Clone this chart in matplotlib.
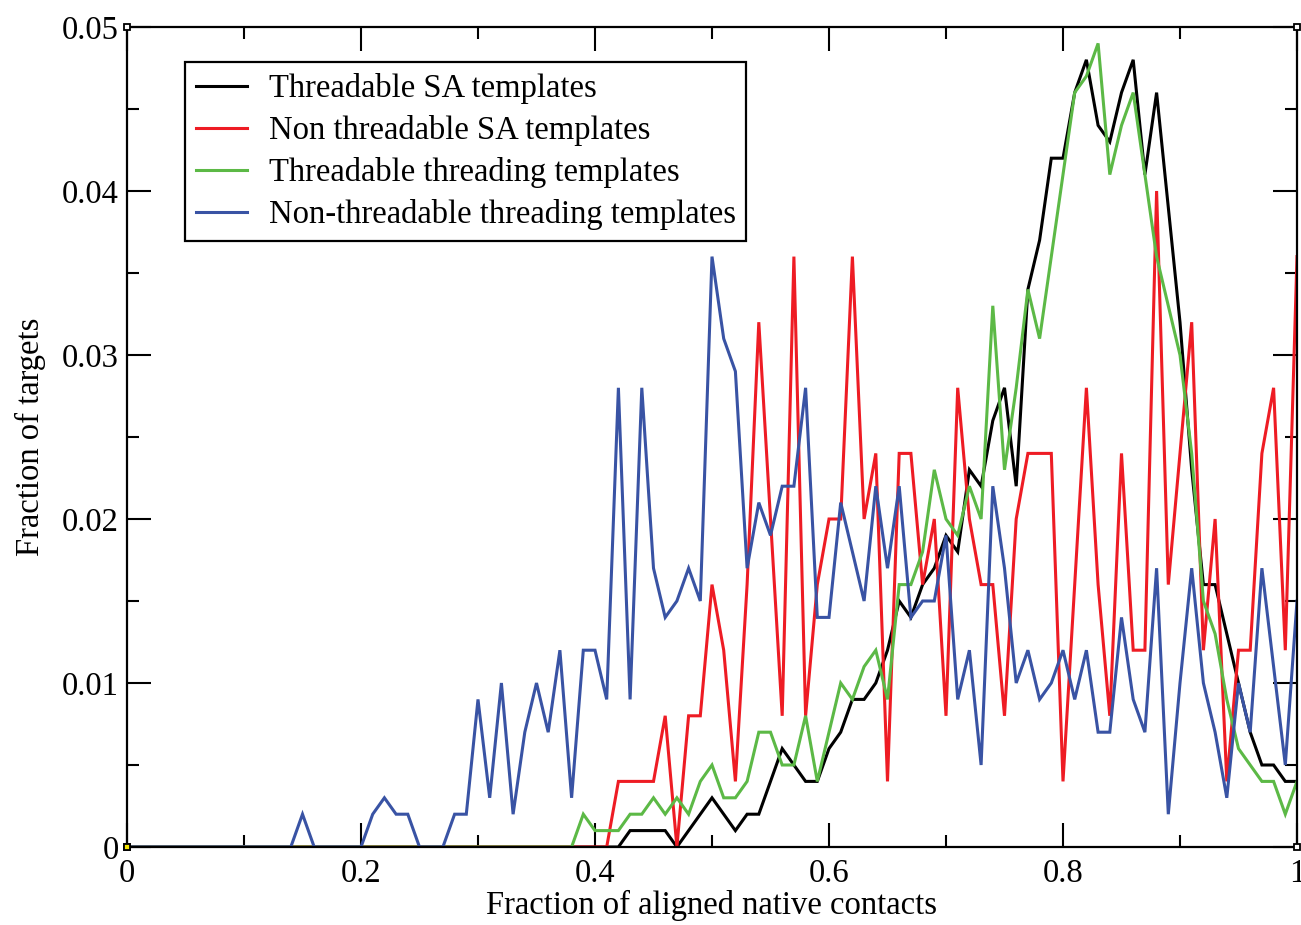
import matplotlib

matplotlib.use("Agg")
import matplotlib.pyplot as plt
from matplotlib.ticker import MultipleLocator, FuncFormatter

# fraction of aligned native contacts, 0.00 .. 1.00 in steps of 0.01
x = [i / 100 for i in range(101)]

black = ([0.0] * 43 +
         [0.001, 0.001, 0.001, 0.001, 0.0, 0.001, 0.002, 0.003, 0.002, 0.001,
          0.002, 0.002, 0.004, 0.006, 0.005, 0.004, 0.004, 0.006, 0.007, 0.009,
          0.009, 0.010, 0.012, 0.015, 0.014, 0.016, 0.017, 0.019, 0.018, 0.023,
          0.022, 0.026, 0.028, 0.022, 0.034, 0.037, 0.042, 0.042, 0.046, 0.048,
          0.044, 0.043, 0.046, 0.048, 0.041, 0.046, 0.039, 0.032, 0.023, 0.016,
          0.016, 0.013, 0.010, 0.007, 0.005, 0.005, 0.004, 0.004])

red = ([0.0] * 42 +
       [0.004, 0.004, 0.004, 0.004, 0.008, 0.0, 0.008, 0.008, 0.016, 0.012,
        0.004, 0.016, 0.032, 0.020, 0.008, 0.036, 0.008, 0.016, 0.020, 0.020,
        0.036, 0.020, 0.024, 0.004, 0.024, 0.024, 0.016, 0.020, 0.008, 0.028,
        0.020, 0.016, 0.016, 0.008, 0.020, 0.024, 0.024, 0.024, 0.004, 0.016,
        0.028, 0.016, 0.008, 0.024, 0.012, 0.012, 0.040, 0.016, 0.024, 0.032,
        0.012, 0.020, 0.004, 0.012, 0.012, 0.024, 0.028, 0.012, 0.036])

green = ([0.0] * 39 +
         [0.002, 0.001, 0.001, 0.001, 0.002, 0.002, 0.003, 0.002, 0.003, 0.002,
          0.004, 0.005, 0.003, 0.003, 0.004, 0.007, 0.007, 0.005, 0.005, 0.008,
          0.004, 0.007, 0.010, 0.009, 0.011, 0.012, 0.009, 0.016, 0.016, 0.018,
          0.023, 0.020, 0.019, 0.022, 0.020, 0.033, 0.023, 0.028, 0.034, 0.031,
          0.036, 0.041, 0.046, 0.047, 0.049, 0.041, 0.044, 0.046, 0.041, 0.036,
          0.033, 0.030, 0.024, 0.015, 0.013, 0.009, 0.006, 0.005, 0.004, 0.004,
          0.002, 0.004])

blue = ([0.0] * 15 +
        [0.002, 0.0, 0.0, 0.0, 0.0, 0.0, 0.002, 0.003, 0.002, 0.002,
         0.0, 0.0, 0.0, 0.002, 0.002, 0.009, 0.003, 0.010, 0.002, 0.007,
         0.010, 0.007, 0.012, 0.003, 0.012, 0.012, 0.009, 0.028, 0.009, 0.028,
         0.017, 0.014, 0.015, 0.017, 0.015, 0.036, 0.031, 0.029, 0.017, 0.021,
         0.019, 0.022, 0.022, 0.028, 0.014, 0.014, 0.021, 0.018, 0.015, 0.022,
         0.017, 0.022, 0.014, 0.015, 0.015, 0.019, 0.009, 0.012, 0.005, 0.022,
         0.017, 0.010, 0.012, 0.009, 0.010, 0.012, 0.009, 0.012, 0.007, 0.007,
         0.014, 0.009, 0.007, 0.017, 0.002, 0.010, 0.017, 0.010, 0.007, 0.003,
         0.010, 0.007, 0.017, 0.011, 0.005, 0.015])

labels = ["Threadable SA templates", "Non threadable SA templates",
          "Threadable threading templates", "Non-threadable threading templates"]
colors = ["#000000", "#ee1c24", "#5cb946", "#3953a4"]

FS = 23.5
plt.rcParams["font.family"] = ["Liberation Serif", "DejaVu Serif"]

fig = plt.figure(figsize=(13.01, 9.25), dpi=100)
ax = fig.add_axes([127 / 1301, 1 - 847 / 925, 1170 / 1301, 820 / 925])

for ys, c, lab in zip([black, red, green, blue], colors, labels):
    ax.plot(x, ys, color=c, lw=2.2, label=lab, solid_joinstyle="miter")

ax.set_xlim(0, 1)
ax.set_ylim(0, 0.05)
ax.xaxis.set_major_locator(MultipleLocator(0.2))
ax.xaxis.set_minor_locator(MultipleLocator(0.1))
ax.yaxis.set_major_locator(MultipleLocator(0.01))
ax.yaxis.set_minor_locator(MultipleLocator(0.005))
fmt = FuncFormatter(lambda v, p: f"{v:g}")
ax.xaxis.set_major_formatter(fmt)
ax.yaxis.set_major_formatter(fmt)
ax.tick_params(which="both", direction="in", top=True, right=True, width=1.5,
               labelsize=FS)
ax.tick_params(which="major", length=17)
ax.tick_params(which="minor", length=8.6)
ax.tick_params(axis="y", pad=6)
ax.tick_params(axis="x", pad=8)
for s in ax.spines.values():
    s.set_linewidth(1.6)

# small corner squares drawn by the original plotting program
ax.plot([0, 0, 1, 1], [0, 0.05, 0.05, 0], ls="none", marker="s", ms=5,
        mfc="white", mec="black", mew=1.3, clip_on=False, zorder=5)
ax.plot([0], [0], ls="none", marker="s", ms=5, mfc="#f4e400", mec="black",
        mew=1.3, clip_on=False, zorder=6)

ax.set_xlabel("Fraction of aligned native contacts", fontsize=FS, labelpad=1)
ax.set_ylabel("Fraction of targets", fontsize=FS, labelpad=11)

leg = ax.legend(loc="upper left", bbox_to_anchor=(0.0496, 0.957), fontsize=FS,
                fancybox=False, edgecolor="black", framealpha=1,
                handlelength=1.56, handletextpad=0.67, labelspacing=0.34,
                borderpad=0.33, borderaxespad=0)
leg.get_frame().set_linewidth(1.6)

fig.savefig("out.png", dpi=100)
